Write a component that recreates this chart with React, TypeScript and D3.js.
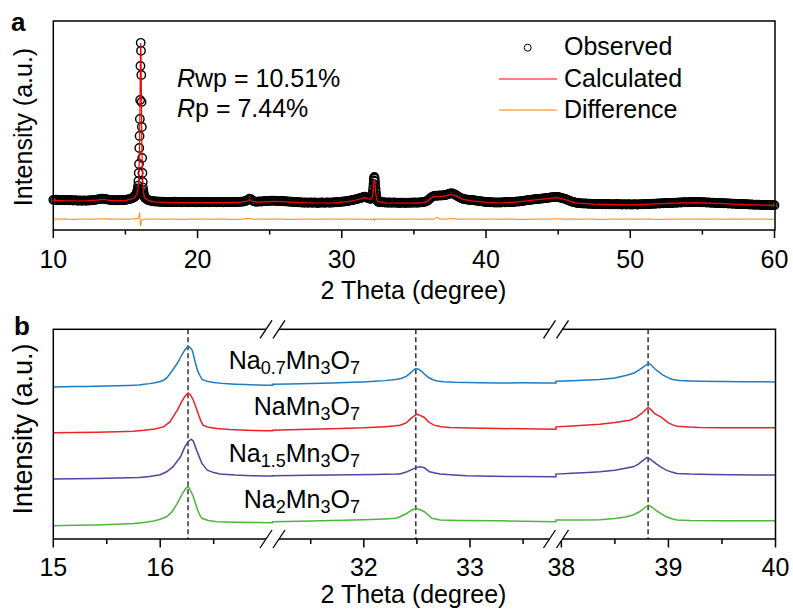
import React from 'react';
import * as d3 from 'd3';

const W = 793;
const H = 614;
const FONT = '"Liberation Sans", Arial, Helvetica, sans-serif';

// ---------------- Panel a data ----------------
// Observed intensities on the measurement grid (segments of constant step)
const obsA = [151,150,152,149,150,151,149,150,148,150,149,148,150,148,147,149,148,146,148,147,146,148,147,146,148,147,149,148,150,151,152,153,154,156,157,156,155,153,152,151,150,149,150,148,149,148,150,149,150,151,150,152,153,155,157,160,165];
const obsB = [166,168,169,171,173,175,177,180,183,187,192,199,208,222,245,285,330,410,470,555,650,820,936,896,775,640,515,360,285,240,212,196,185,177,172,168,165,162,160,158];
const obsC = [152,149,147,146,144,143,142,143,141,142,140,142,141,139,141,140,141,139,140,142,140,139,141,140,138,140,141,139,140,138,140,141,139,140,138,139,141,140,138,140,139,141,140,138,139,141,140,139,138,140,141,139,140,138,140,139,141,140,139,141,140,139,141,140,141,142,141,143,144,147,152,157,154,148,144,142,141,142,143,142,143,144,145,146,145,146,147,146,147,146,145,146,145,144,145,143,144,142,143,141,142,140,141,139,140,138,139,137,138,136,138,137,136,138,137,136,138,137,135,137,136,138,137,136,137,138,137,136,138,137,139,138,140,139,141,141,143,142,144,145,146,148,149,151,152,154,156,158,160,162,165,167,164,160,157,156];
const obsD = [157,158,160,163,167,173,182,195,212,230,248,260,265,257,243,226,207,190,176,166,158,153,149,146,144,143,142,141,140,140];
const obsE = [139,138,139,137,138,136,138,137,136,138,137,136,137,135,137,136,137,135,136,137,136,137,136,138,137,136,138,137,139,138,140,142,145,150,157,163,167,170,172,171,172,173,172,173,174,175,177,180,182,184,182,179,175,171,166,162,158,156,154,153,152,151,150,150,149,148,147,146,145,144,143,142,141,140,139,140,138,139,138,137,138,137,138,137,138,139,138,139,140,139,140,141,140,141,142,143,142,144,145,146,147,148,149,150,151,152,153,154,155,155,156,157,157,158,159,160,161,162,163,164,164,165,166,165,163,161,159,157,155,152,149,146,143,141,139,137,136,135,134,133,133,132,133,132,131,132,131,130,131,130,131,130,129,130,129,130,128,129,130,128,129,128,129,128,130,128,129,127,128,129,127,128,129,127,128,127,129,128,127,128,129,128,129,130,129,130,131,130,131,132,131,132,133,132,133,134,133,134,135,134,135,136,135,136,137,136,137,138,137,138,139,138,139,138,139,140,139,140,139,140,139,140,139,138,139,138,137,138,137,136,137,136,135,136,135,134,135,134,133,134,133,132,133,132,131,132,131,130,131,130,129,130,129,128,129,128,127,128,127,126,127,126,127,126,125,126,125,126,125,124,125,124,125,124];
const obsStarts = [10.0, 15.62, 16.5, 32.02, 32.7];
const obsSteps = [0.1, 0.02, 0.1, 0.02, 0.1];
const obsBlocks = [obsA, obsB, obsC, obsD, obsE];

// Calculated profile [2theta, intensity]
const calcPts: [number, number][] = [[10,148],[11,146],[12,145],[13,149],[13.4,153],[13.6,152],[14,147],[15,148],[15.4,154],[15.6,160],[15.7,167],[15.8,180],[15.86,200],[15.9,225],[15.94,290],[15.98,420],[16.02,700],[16.05,935],[16.08,880],[16.11,650],[16.14,420],[16.18,270],[16.24,195],[16.3,170],[16.4,157],[16.6,147],[17,141],[18,138],[20,137],[22,137],[23,139],[23.4,143],[23.6,152],[23.8,143],[24.2,139],[25,142],[25.5,143],[26.5,139],[28,135],[29.5,136],[30.5,143],[31,150],[31.4,158],[31.6,163],[31.8,157],[32,153],[32.1,160],[32.16,185],[32.22,240],[32.26,255],[32.3,235],[32.36,180],[32.42,155],[32.5,143],[33,136],[35,134],[35.7,137],[36,146],[36.2,160],[36.4,167],[37,168],[37.6,178],[38,168],[38.4,153],[39,146],[40,138],[41,135],[42,139],[43,147],[44.2,157],[44.9,162],[45.5,152],[46.2,136],[47.5,129],[50,126],[51,128],[53,134],[54.6,137],[56,133],[58,127],[60,123]];

// Difference profile [2theta, intensity] (offset below the pattern)
const diffPts: [number, number][] = [[10,54],[10.5,55],[11,54],[11.5,53],[12,55],[12.5,54],[13,55],[13.5,56],[14,54],[14.5,55],[15,54],[15.5,55],[15.8,56],[15.9,58],[15.95,72],[15.99,86],[16.01,62],[16.03,35],[16.05,20],[16.08,36],[16.12,49],[16.2,52],[16.3,55],[16.6,54],[17,55],[17.5,54],[18,55],[18.5,54],[19,53],[19.5,55],[20,54],[20.5,55],[21,54],[21.5,55],[22,54],[22.5,53],[23,54],[23.6,57],[24,54],[24.5,55],[25,54],[25.5,55],[26,54],[26.5,53],[27,54],[27.5,55],[28,54],[28.5,55],[29,54],[29.5,55],[30,54],[30.5,55],[31,54],[31.5,55],[31.7,52],[31.9,55],[32.1,50],[32.2,57],[32.28,47],[32.36,56],[32.5,54],[33,55],[33.5,54],[34,55],[34.5,54],[35,55],[35.5,54],[36,55],[36.4,54],[36.6,63],[36.8,55],[37.2,54],[37.6,57],[38,54],[38.5,55],[39,54],[39.5,55],[40,54],[40.5,55],[41,54],[41.5,55],[42,54],[42.5,53],[43,54],[43.5,55],[44,54],[44.5,55],[45,56],[45.5,54],[46,55],[46.5,54],[47,55],[47.5,54],[48,53],[48.5,54],[49,55],[49.5,54],[50,55],[50.5,54],[51,55],[51.5,54],[52,53],[52.5,54],[53,55],[53.5,54],[54,55],[54.5,54],[55,55],[55.5,54],[56,55],[56.5,54],[57,55],[57.5,54],[58,55],[58.5,54],[59,55],[59.5,54],[60,54]];

const majorTicksA = [10, 20, 30, 40, 50, 60];
const minorTicksA = [15, 25, 35, 45, 55];
const legendLabels = ['Observed', 'Calculated', 'Difference'];

// ---------------- Panel b data ----------------
const blueSeries: [number, number][] = [[15,0],[15.1,0.2],[15.2,0.3],[15.3,0.4],[15.4,0.7],[15.5,0.9],[15.6,1.2],[15.7,1.5],[15.8,2.0],[15.85,2.6],[15.9,3.3],[15.95,4.2],[16.0,5.4],[16.03,6.7],[16.06,9],[16.09,13],[16.12,17.5],[16.16,23.7],[16.2,31.7],[16.23,37],[16.26,40.7],[16.28,39.5],[16.3,36.7],[16.33,23.7],[16.35,16],[16.37,11.7],[16.39,7.7],[16.42,6.3],[16.45,5.5],[16.5,4.4],[16.6,3.3],[16.7,2.7],[16.8,2.3],[16.9,2.0],[17.0,1.7],[17.05,1.6],
  [31.14,2.7],[31.3,3.0],[31.5,3.4],[31.7,3.9],[31.9,4.6],[32.0,5.0],[32.1,5.6],[32.2,6.3],[32.3,7.4],[32.35,8.4],[32.4,10.5],[32.44,14],[32.47,17],[32.49,18.4],[32.52,17.5],[32.55,15],[32.58,12],[32.61,9.4],[32.65,7.2],[32.69,6],[32.75,5.2],[32.85,4.7],[32.97,4.4],[33.1,4.2],[33.28,4.0],[33.5,4.1],[33.7,4.0],[33.81,4.0],
  [37.95,5.7],[38.1,6.2],[38.2,6.6],[38.36,7.4],[38.5,9],[38.61,11.7],[38.68,14],[38.73,17.4],[38.78,21],[38.82,23.4],[38.84,22],[38.87,18.4],[38.91,15],[38.95,11.7],[39.0,9],[39.04,7.4],[39.1,6.4],[39.2,6],[39.29,5.7],[39.5,5.4],[39.7,5.2],[39.85,5.1],[40,5.0]];
const redSeries: [number, number][] = [[15,0],[15.2,0.3],[15.4,0.6],[15.6,1.1],[15.75,1.7],[15.85,2.5],[15.95,3.8],[16.03,6],[16.09,11],[16.16,22.7],[16.2,31],[16.23,36.5],[16.26,40],[16.28,38.5],[16.31,32.7],[16.34,24],[16.36,17.7],[16.38,12],[16.4,7.7],[16.45,5.5],[16.53,4.4],[16.65,3.3],[16.8,2.6],[17.0,2.1],[17.05,2.0],
  [31.14,2.7],[31.4,3.3],[31.7,4.0],[32.0,5.0],[32.2,6.2],[32.3,7.0],[32.34,7.7],[32.4,10],[32.45,15],[32.5,18.7],[32.53,17.5],[32.57,15.4],[32.61,11],[32.66,7.7],[32.73,6.2],[32.81,5.4],[33.0,4.8],[33.28,4.4],[33.5,4.0],[33.81,3.7],
  [37.95,6.0],[38.1,6.8],[38.25,7.8],[38.36,8.7],[38.5,10.3],[38.64,12.7],[38.7,15.5],[38.75,19.4],[38.81,25.4],[38.84,23],[38.87,19.4],[38.9,17.5],[38.93,16],[38.97,12.5],[39.0,10],[39.04,8],[39.08,6.7],[39.2,5.8],[39.29,5.4],[39.5,5.2],[39.75,5.1],[40,5.0]];
const purpleSeries: [number, number][] = [[15,0],[15.2,0.3],[15.4,0.6],[15.6,1.0],[15.8,1.7],[15.9,2.5],[16.0,4.3],[16.06,7.3],[16.12,12.5],[16.19,22.3],[16.23,32.3],[16.26,37.5],[16.29,40],[16.31,38],[16.34,29],[16.37,21],[16.39,15.7],[16.44,9],[16.5,6.5],[16.56,5],[16.7,4.0],[16.85,3.4],[17.0,3.0],[17.05,3.0],
  [31.14,3.3],[31.5,3.8],[31.9,4.3],[32.1,4.6],[32.3,5.0],[32.34,5.2],[32.4,7],[32.44,9],[32.49,11.5],[32.53,12.3],[32.57,11.3],[32.62,7.3],[32.67,6],[32.72,5],[32.85,4],[32.97,3.3],[33.2,2.8],[33.5,2.5],[33.81,2.3],
  [37.95,5.0],[38.1,5.8],[38.25,6.6],[38.36,7.3],[38.5,8.8],[38.67,12.3],[38.72,15],[38.76,18.5],[38.8,21.7],[38.83,20],[38.88,15.7],[38.93,12],[38.98,9],[39.03,7],[39.08,5.7],[39.2,5],[39.4,4.6],[39.6,4.3],[39.8,4.1],[40,4.0]];
const greenSeries: [number, number][] = [[15,0],[15.2,0.4],[15.4,0.8],[15.6,1.4],[15.75,2.2],[15.85,3.2],[15.94,4.7],[16.0,6.5],[16.06,9],[16.11,14],[16.16,22.3],[16.2,30.7],[16.23,36],[16.26,39.7],[16.28,36],[16.31,29],[16.33,22],[16.35,15.7],[16.37,10.5],[16.39,7.4],[16.45,5.2],[16.53,4.0],[16.7,3.4],[16.9,3.1],[17.05,3.0],
  [31.14,4.0],[31.4,4.5],[31.7,5.2],[32.0,6.0],[32.2,6.8],[32.3,7.4],[32.34,9],[32.4,12],[32.45,15.5],[32.49,17.4],[32.53,16],[32.57,14],[32.61,10.5],[32.64,7.4],[32.72,5.7],[32.9,5.2],[33.28,5.0],[33.5,4.5],[33.81,4.0],
  [37.95,5.7],[38.2,5.8],[38.36,6],[38.5,7.2],[38.6,8.8],[38.67,10.7],[38.73,14],[38.78,18],[38.81,20.7],[38.84,19],[38.88,15.7],[38.93,12],[38.98,9],[39.03,7],[39.08,5.7],[39.2,5.3],[39.5,5.1],[39.75,5.0],[40,5.0]];

const seriesB = [
  { data: blueSeries, offset: 152.3, color: '#1f7cc0', label: [['Na', 0], ['0.7', 1], ['Mn', 0], ['3', 1], ['O', 0], ['7', 1]] },
  { data: redSeries, offset: 106.3, color: '#ec2228', label: [['Na', 0], ['Mn', 0], ['3', 1], ['O', 0], ['7', 1]] },
  { data: purpleSeries, offset: 60, color: '#5b3fa0', label: [['Na', 0], ['1.5', 1], ['Mn', 0], ['3', 1], ['O', 0], ['7', 1]] },
  { data: greenSeries, offset: 13.3, color: '#4fb53d', label: [['Na', 0], ['2', 1], ['Mn', 0], ['3', 1], ['O', 0], ['7', 1]] },
];
const dashedPositions = [16.26, 32.49, 38.81];
const majorTicksB = [15, 16, 32, 33, 38, 39, 40];
const minorTicksB = [15.5, 16.5, 31.5, 32.5, 33.5, 38.5, 39.5];
const breakDomain = [15, 17.05, 31.14, 33.81, 37.95, 40];

// ---------------- Layout ----------------
const A = { l: 53.3, r: 775, t: 21, b: 230 };
const B = { l: 53.3, r: 775.5, t: 329.3, b: 539 };

export default function App() {
  const xA = d3.scaleLinear().domain([10, 60]).range([A.l, 774.5]);
  const yA = d3.scaleLinear().domain([0, 1045]).range([A.b, A.t]);

  const obs: [number, number][] = [];
  obsBlocks.forEach((vals, k) => {
    vals.forEach((v, i) => obs.push([+(obsStarts[k] + i * obsSteps[k]).toFixed(3), v]));
  });

  const lineA = d3.line<[number, number]>().x(d => xA(d[0])).y(d => yA(d[1]));

  const bx1 = 272.5, bx2 = 556;
  const xB = d3.scaleLinear().domain(breakDomain).range([B.l, bx1, bx1, bx2, bx2, B.r]);
  const yB = d3.scaleLinear().domain([0, 210]).range([B.b, B.t]);

  const breakMark = (cx: number, cy: number, key: string) => (
    <g key={key}>
      <rect x={cx - 6.5} y={cy - 2} width={13} height={4} fill="#fff" />
      <line x1={cx - 12.5} y1={cy + 9} x2={cx - 0.5} y2={cy - 9} stroke="#000" strokeWidth={1.3} />
      <line x1={cx + 0.5} y1={cy + 9} x2={cx + 12.5} y2={cy - 9} stroke="#000" strokeWidth={1.3} />
    </g>
  );

  return (
    <svg width={W} height={H} style={{ position: 'absolute', left: 0, top: 0, background: '#fff' }} fontFamily={FONT}>
      <rect x={0} y={0} width={W} height={H} fill="#fff" />
      {/* ---------- Panel a ---------- */}
      <text x={11} y={31} fontSize={26} fontWeight="bold">a</text>
      <path d={lineA(diffPts) || ''} fill="none" stroke="#ff8000" strokeWidth={1} />
      <rect x={A.l} y={A.t} width={A.r - A.l} height={A.b - A.t} fill="none" stroke="#000" strokeWidth={1.5} />
      <g fill="none" stroke="#000" strokeWidth={1.4}>
        {obs.map((d, i) => <circle key={i} cx={xA(d[0])} cy={yA(d[1])} r={4.2} />)}
      </g>
      <path d={lineA(calcPts) || ''} fill="none" stroke="#ff0000" strokeWidth={1.2} />
      {majorTicksA.map(t => (
        <g key={'ma' + t}>
          <line x1={xA(t)} x2={xA(t)} y1={A.b} y2={A.b + 8} stroke="#000" strokeWidth={1.5} />
          <text x={xA(t)} y={268} fontSize={25} textAnchor="middle">{t}</text>
        </g>
      ))}
      {minorTicksA.map(t => (
        <line key={'mi' + t} x1={xA(t)} x2={xA(t)} y1={A.b} y2={A.b + 4.5} stroke="#000" strokeWidth={1.5} />
      ))}
      <text x={413.5} y={299} fontSize={25} textAnchor="middle">2 Theta (degree)</text>
      <text transform="translate(32,127) rotate(-90)" fontSize={25} textAnchor="middle">Intensity (a.u.)</text>
      <text x={177} y={87} fontSize={25}><tspan fontStyle="italic">R</tspan>wp = 10.51%</text>
      <text x={177} y={117} fontSize={25}><tspan fontStyle="italic">R</tspan>p = 7.44%</text>
      {/* legend */}
      <circle cx={527.7} cy={47.7} r={3.5} fill="none" stroke="#000" strokeWidth={1} />
      <line x1={499} x2={557} y1={79} y2={79} stroke="#ff0000" strokeWidth={1.2} />
      <line x1={499} x2={557} y1={110} y2={110} stroke="#ff8000" strokeWidth={1.2} />
      {legendLabels.map((s, i) => (
        <text key={s} x={564} y={55 + i * 31.6} fontSize={25}>{s}</text>
      ))}

      {/* ---------- Panel b ---------- */}
      <text x={14} y={335} fontSize={26} fontWeight="bold">b</text>
      {dashedPositions.map(p => (
        <line key={'dl' + p} x1={xB(p)} x2={xB(p)} y1={B.t} y2={B.b} stroke="#000" strokeWidth={1.2} strokeDasharray="5,3" />
      ))}
      {seriesB.map((s, i) => {
        const ln = d3.line<[number, number]>().x(d => xB(d[0])).y(d => yB(d[1] + s.offset));
        return <path key={'s' + i} d={ln(s.data) || ''} fill="none" stroke={s.color} strokeWidth={1.5} />;
      })}
      {seriesB.map((s, i) => (
        <text key={'lb' + i} x={360} y={yB(s.offset) - 17.5} fontSize={25} textAnchor="end">
          {s.label.map(([txt, sub], j) => {
            const prevSub = j > 0 ? s.label[j - 1][1] : 0;
            const dy = sub && !prevSub ? 5 : !sub && prevSub ? -5 : 0;
            return <tspan key={j} fontSize={sub ? 18 : 25} dy={dy}>{txt as string}</tspan>;
          })}
        </text>
      ))}
      <rect x={B.l} y={B.t} width={B.r - B.l} height={B.b - B.t} fill="none" stroke="#000" strokeWidth={1.5} />
      {majorTicksB.map(t => (
        <g key={'mb' + t}>
          <line x1={xB(t)} x2={xB(t)} y1={B.b} y2={B.b + 8.5} stroke="#000" strokeWidth={1.5} />
          <text x={xB(t)} y={576} fontSize={25} textAnchor="middle">{t}</text>
        </g>
      ))}
      {minorTicksB.map(t => (
        <line key={'nb' + t} x1={xB(t)} x2={xB(t)} y1={B.b} y2={B.b + 5} stroke="#000" strokeWidth={1.5} />
      ))}
      {[bx1, bx2].map(bx => [breakMark(bx, B.t, 't' + bx), breakMark(bx, B.b, 'b' + bx)])}
      <text x={413.5} y={603} fontSize={25} textAnchor="middle">2 Theta (degree)</text>
      <text transform="translate(32,429) rotate(-90)" fontSize={27} textAnchor="middle">Intensity (a.u.)</text>
    </svg>
  );
}
